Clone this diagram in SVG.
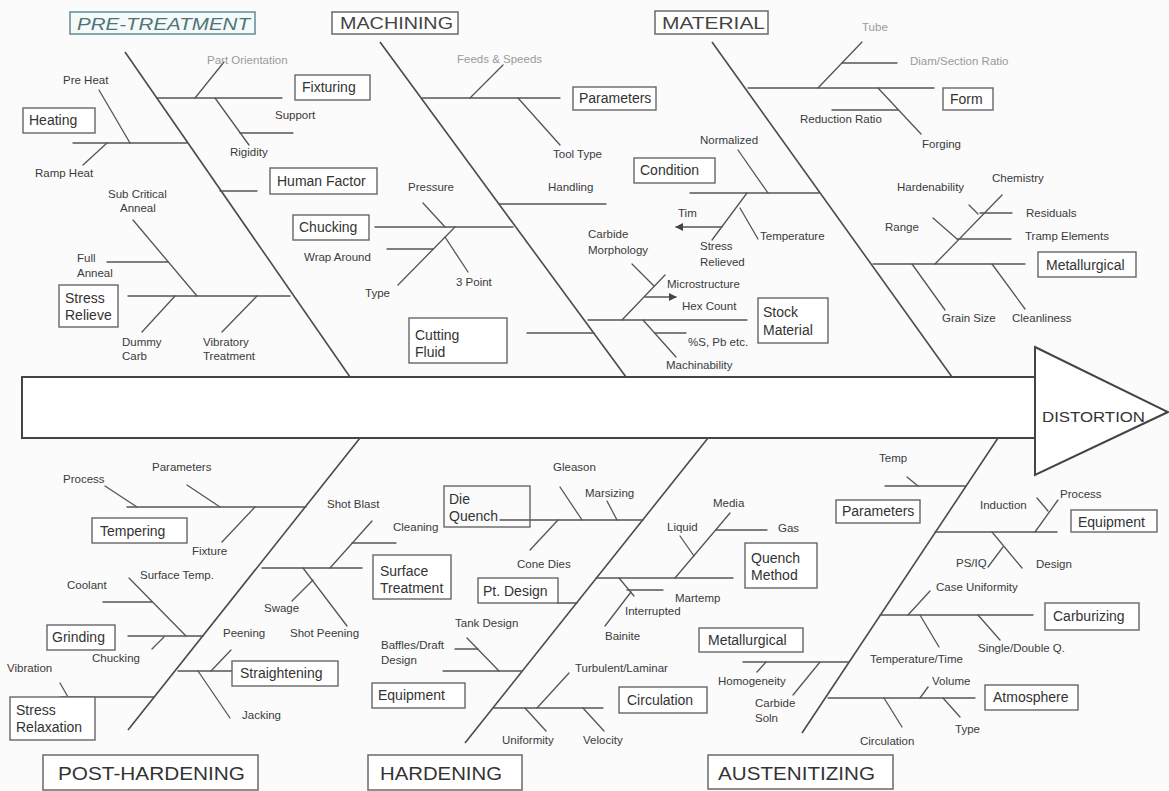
<svg xmlns="http://www.w3.org/2000/svg" width="1169" height="791" viewBox="0 0 1169 791">
<style>
.bg{fill:#fbfbfb}
.ln{stroke:#555;stroke-width:1.3;fill:none;stroke-linecap:round}
.bone{stroke:#4a4a4a;stroke-width:1.6;fill:none}
.spine{stroke:#444;stroke-width:2;fill:#fff}
.box{fill:#fff;stroke:#666;stroke-width:1.4}
.obox{fill:none;stroke:#666;stroke-width:1.4}
.hbox{fill:#fff;stroke:#6a6a6a;stroke-width:1.5}
.pbox{fill:#f4f9f9;stroke:#5f8f90;stroke-width:1.5}
.t{font-family:"Liberation Sans",Arial,sans-serif;font-size:11.5px;fill:#3a3a3a}
.lt{font-family:"Liberation Sans",Arial,sans-serif;font-size:11.5px;fill:#9a9a9a}
.bt{font-family:"Liberation Sans",Arial,sans-serif;font-size:14px;fill:#333}
.hd{font-family:"Liberation Sans",Arial,sans-serif;font-size:17px;fill:#444}
.hb{font-family:"Liberation Sans",Arial,sans-serif;font-size:19px;fill:#333}
.pt{font-family:"Liberation Sans",Arial,sans-serif;font-size:17px;font-style:italic;fill:#4f7475}
</style>
<defs>
<marker id="ah" viewBox="0 0 10 10" refX="9" refY="5" markerWidth="6" markerHeight="6" orient="auto-start-reverse">
<path d="M0,0 L10,5 L0,10 Z" fill="#444"/>
</marker>
</defs>
<rect class="bg" x="0" y="0" width="1169" height="791"/>

<g id="spine">
<rect class="spine" x="22" y="377" width="1013" height="61"/>
<path class="spine" d="M1035 347 L1168 412 L1035 475 Z"/>
<text class="bt" x="1042" y="422" font-size="15" textLength="103" lengthAdjust="spacingAndGlyphs">DISTORTION</text>
</g>

<g id="connectors">
<!-- main bones -->
<path class="bone" d="M125 52 L350 377"/>
<path class="bone" d="M380 42 L626 377"/>
<path class="bone" d="M712 42 L952 377"/>
<path class="bone" d="M360 438 L128 730"/>
<path class="bone" d="M708 438 L465 743"/>
<path class="bone" d="M998 438 L802 733"/>
<!-- pre-treatment -->
<path class="ln" d="M157 98 H282"/>
<path class="ln" d="M195 98 L224 62"/>
<path class="ln" d="M215 98 L249 145"/>
<path class="ln" d="M240 133 H293"/>
<path class="ln" d="M73 143 H187"/>
<path class="ln" d="M99 90 L130 143"/>
<path class="ln" d="M83 165 L107 143"/>
<path class="ln" d="M220 191 H257"/>
<path class="ln" d="M128 296 H290"/>
<path class="ln" d="M133 220 L197 296"/>
<path class="ln" d="M107 262 H168"/>
<path class="ln" d="M142 332 L175 296"/>
<path class="ln" d="M222 332 L257 296"/>
<!-- machining -->
<path class="ln" d="M422 98 H560"/>
<path class="ln" d="M470 98 L503 65"/>
<path class="ln" d="M518 98 L560 145"/>
<path class="ln" d="M499 204 H606"/>
<path class="ln" d="M375 227 H513"/>
<path class="ln" d="M423 203 L445 227"/>
<path class="ln" d="M455 227 L398 285"/>
<path class="ln" d="M387 249 H433"/>
<path class="ln" d="M445 237 L468 272"/>
<path class="ln" d="M527 333 H594"/>
<path class="ln" d="M588 320 H747"/>
<!-- material -->
<path class="ln" d="M748 88 H934"/>
<path class="ln" d="M818 88 L862 42"/>
<path class="ln" d="M842 63 H897"/>
<path class="ln" d="M878 88 L921 134"/>
<path class="ln" d="M832 110 H898"/>
<path class="ln" d="M690 193 H819"/>
<path class="ln" d="M738 150 L768 193"/>
<path class="ln" d="M747 193 L712 240"/>
<path class="ln" d="M740 208 L758 239"/>
<path class="ln" d="M722 227 H676" marker-end="url(#ah)"/>
<path class="ln" d="M622 320 L665 275"/>
<path class="ln" d="M632 264 L654 286"/>
<path class="ln" d="M645 297 H676" marker-end="url(#ah)"/>
<path class="ln" d="M643 320 L676 357"/>
<path class="ln" d="M655 333 H686"/>
<path class="ln" d="M873 264 H1025"/>
<path class="ln" d="M935 264 L1002 195"/>
<path class="ln" d="M969 205 L978 214"/>
<path class="ln" d="M980 213 H1012"/>
<path class="ln" d="M933 218 L957 239"/>
<path class="ln" d="M957 239 H1011"/>
<path class="ln" d="M912 264 L945 310"/>
<path class="ln" d="M992 264 L1025 309"/>
<!-- post-hardening -->
<path class="ln" d="M127 507 H306"/>
<path class="ln" d="M105 486 L137 507"/>
<path class="ln" d="M187 485 L220 507"/>
<path class="ln" d="M222 542 L255 507"/>
<path class="ln" d="M262 568 H362"/>
<path class="ln" d="M330 568 L372 521"/>
<path class="ln" d="M352 543 H396"/>
<path class="ln" d="M303 568 L347 626"/>
<path class="ln" d="M292 601 L313 580"/>
<path class="ln" d="M128 636 H203"/>
<path class="ln" d="M129 578 L186 636"/>
<path class="ln" d="M103 602 H152"/>
<path class="ln" d="M152 649 L164 637"/>
<path class="ln" d="M178 671 H233"/>
<path class="ln" d="M211 671 L231 650"/>
<path class="ln" d="M198 671 L230 718"/>
<path class="ln" d="M60 697 H154"/>
<path class="ln" d="M60 683 L68 697"/>
<!-- hardening -->
<path class="ln" d="M500 520 H643"/>
<path class="ln" d="M560 487 L582 520"/>
<path class="ln" d="M607 501 L617 520"/>
<path class="ln" d="M530 550 L558 520"/>
<path class="ln" d="M557 603 H577"/>
<path class="ln" d="M596 578 H733"/>
<path class="ln" d="M675 578 L730 513"/>
<path class="ln" d="M680 536 L694 556"/>
<path class="ln" d="M716 530 H767"/>
<path class="ln" d="M619 578 L634 596"/>
<path class="ln" d="M627 590 H663"/>
<path class="ln" d="M631 592 L605 626"/>
<path class="ln" d="M443 671 H522"/>
<path class="ln" d="M467 638 L499 671"/>
<path class="ln" d="M455 649 H478"/>
<path class="ln" d="M493 708 H603"/>
<path class="ln" d="M537 708 L569 673"/>
<path class="ln" d="M525 708 L546 731"/>
<path class="ln" d="M583 708 L604 731"/>
<!-- austenitizing -->
<path class="ln" d="M885 486 H966"/>
<path class="ln" d="M907 477 L918 486"/>
<path class="ln" d="M935 532 H1057"/>
<path class="ln" d="M1035 532 L1058 500"/>
<path class="ln" d="M1037 498 L1048 511"/>
<path class="ln" d="M992 532 L1022 568"/>
<path class="ln" d="M988 567 L1003 547"/>
<path class="ln" d="M880 615 H1033"/>
<path class="ln" d="M908 615 L930 591"/>
<path class="ln" d="M920 615 L939 647"/>
<path class="ln" d="M978 615 L1000 640"/>
<path class="ln" d="M743 662 H849"/>
<path class="ln" d="M757 672 L766 662"/>
<path class="ln" d="M793 695 L820 662"/>
<path class="ln" d="M828 698 H975"/>
<path class="ln" d="M920 698 L928 687"/>
<path class="ln" d="M943 698 L960 717"/>
<path class="ln" d="M884 698 L902 727"/>
</g>

<!-- category headers -->
<g id="pre-treatment"><rect class="pbox" x="70" y="12" width="185" height="22"/><text class="pt" x="77" y="30" textLength="173" lengthAdjust="spacingAndGlyphs">PRE-TREATMENT</text></g>
<g id="machining"><rect class="hbox" x="332" y="12" width="126" height="22"/><text class="hd" x="340" y="29" textLength="113" lengthAdjust="spacingAndGlyphs">MACHINING</text></g>
<g id="material"><rect class="hbox" x="655" y="11" width="113" height="23"/><text class="hd" x="662" y="29" textLength="103" lengthAdjust="spacingAndGlyphs">MATERIAL</text></g>
<g id="post-hardening"><rect class="hbox" x="43" y="755" width="215" height="35"/><text class="hb" x="58" y="780" textLength="187" lengthAdjust="spacingAndGlyphs">POST-HARDENING</text></g>
<g id="hardening"><rect class="hbox" x="368" y="755" width="154" height="35"/><text class="hb" x="380" y="780" textLength="122" lengthAdjust="spacingAndGlyphs">HARDENING</text></g>
<g id="austenitizing"><rect class="hbox" x="708" y="755" width="185" height="34"/><text class="hb" x="718" y="780" textLength="157" lengthAdjust="spacingAndGlyphs">AUSTENITIZING</text></g>

<!-- boxed causes -->
<g id="heating"><rect class="box" x="23" y="108" width="72" height="25"/><text class="bt" x="29" y="125">Heating</text></g>
<g id="fixturing"><rect class="box" x="295" y="75" width="75" height="25"/><text class="bt" x="302" y="92">Fixturing</text></g>
<g id="human-factor"><rect class="box" x="270" y="168" width="107" height="26"/><text class="bt" x="277" y="186">Human Factor</text></g>
<g id="stress-relieve"><rect class="box" x="59" y="285" width="59" height="42"/><text class="bt" x="65" y="303">Stress</text><text class="bt" x="65" y="320">Relieve</text></g>
<g id="parameters-m"><rect class="box" x="573" y="87" width="83" height="23"/><text class="bt" x="579" y="103">Parameters</text></g>
<g id="chucking-m"><rect class="box" x="293" y="215" width="76" height="25"/><text class="bt" x="299" y="232">Chucking</text></g>
<g id="cutting-fluid"><rect class="box" x="409" y="318" width="98" height="45"/><text class="bt" x="415" y="340">Cutting</text><text class="bt" x="415" y="357">Fluid</text></g>
<g id="form"><rect class="box" x="943" y="88" width="50" height="22"/><text class="bt" x="950" y="104">Form</text></g>
<g id="condition"><rect class="box" x="634" y="158" width="81" height="25"/><text class="bt" x="640" y="175">Condition</text></g>
<g id="stock-material"><rect class="box" x="758" y="298" width="70" height="45"/><text class="bt" x="763" y="317">Stock</text><text class="bt" x="763" y="335">Material</text></g>
<g id="metallurgical-m"><rect class="box" x="1038" y="252" width="98" height="25"/><text class="bt" x="1046" y="270">Metallurgical</text></g>
<g id="tempering"><rect class="box" x="92" y="518" width="95" height="25"/><text class="bt" x="100" y="536">Tempering</text></g>
<g id="surface-treatment"><rect class="box" x="373" y="555" width="78" height="44"/><text class="bt" x="380" y="576">Surface</text><text class="bt" x="380" y="593">Treatment</text></g>
<g id="grinding"><rect class="box" x="47" y="625" width="68" height="25"/><text class="bt" x="52" y="642">Grinding</text></g>
<g id="straightening"><rect class="box" x="232" y="661" width="106" height="25"/><text class="bt" x="240" y="678">Straightening</text></g>
<g id="stress-relaxation"><rect class="box" x="10" y="697" width="85" height="43"/><text class="bt" x="16" y="715">Stress</text><text class="bt" x="16" y="732">Relaxation</text></g>
<g id="die-quench"><rect class="obox" x="444" y="486" width="86" height="41"/><text class="bt" x="449" y="504">Die</text><text class="bt" x="449" y="521">Quench</text></g>
<g id="pt-design"><rect class="box" x="478" y="578" width="80" height="25"/><text class="bt" x="483" y="596">Pt. Design</text></g>
<g id="quench-method"><rect class="box" x="745" y="543" width="72" height="45"/><text class="bt" x="751" y="563">Quench</text><text class="bt" x="751" y="580">Method</text></g>
<g id="equipment-h"><rect class="box" x="372" y="683" width="93" height="25"/><text class="bt" x="378" y="700">Equipment</text></g>
<g id="circulation-h"><rect class="box" x="619" y="687" width="88" height="26"/><text class="bt" x="627" y="705">Circulation</text></g>
<g id="parameters-a"><rect class="box" x="836" y="500" width="84" height="23"/><text class="bt" x="842" y="516">Parameters</text></g>
<g id="equipment-a"><rect class="box" x="1071" y="510" width="86" height="22"/><text class="bt" x="1078" y="527">Equipment</text></g>
<g id="carburizing"><rect class="box" x="1045" y="603" width="94" height="27"/><text class="bt" x="1053" y="621">Carburizing</text></g>
<g id="metallurgical-a"><rect class="box" x="699" y="628" width="104" height="24"/><text class="bt" x="708" y="645">Metallurgical</text></g>
<g id="atmosphere"><rect class="box" x="985" y="685" width="93" height="25"/><text class="bt" x="993" y="702">Atmosphere</text></g>

<!-- sub-cause labels -->
<g id="labels-pre-treatment">
<text class="lt" x="207" y="64">Part Orientation</text>
<text class="t" x="63" y="84">Pre Heat</text>
<text class="t" x="35" y="177">Ramp Heat</text>
<text class="t" x="275" y="119">Support</text>
<text class="t" x="230" y="156">Rigidity</text>
<text class="t" x="108" y="198">Sub Critical</text>
<text class="t" x="120" y="212">Anneal</text>
<text class="t" x="77" y="262">Full</text>
<text class="t" x="77" y="277">Anneal</text>
<text class="t" x="122" y="346">Dummy</text>
<text class="t" x="122" y="360">Carb</text>
<text class="t" x="203" y="346">Vibratory</text>
<text class="t" x="203" y="360">Treatment</text>
</g>
<g id="labels-machining">
<text class="lt" x="457" y="63">Feeds &amp; Speeds</text>
<text class="t" x="553" y="158">Tool Type</text>
<text class="t" x="408" y="191">Pressure</text>
<text class="t" x="548" y="191">Handling</text>
<text class="t" x="304" y="261">Wrap Around</text>
<text class="t" x="365" y="297">Type</text>
<text class="t" x="456" y="286">3 Point</text>
</g>
<g id="labels-material">
<text class="lt" x="862" y="31">Tube</text>
<text class="lt" x="910" y="65">Diam/Section Ratio</text>
<text class="t" x="800" y="123">Reduction Ratio</text>
<text class="t" x="922" y="148">Forging</text>
<text class="t" x="700" y="144">Normalized</text>
<text class="t" x="678" y="217">Tim</text>
<text class="t" x="700" y="250">Stress</text>
<text class="t" x="700" y="266">Relieved</text>
<text class="t" x="760" y="240">Temperature</text>
<text class="t" x="588" y="238">Carbide</text>
<text class="t" x="588" y="254">Morphology</text>
<text class="t" x="667" y="288">Microstructure</text>
<text class="t" x="682" y="310">Hex Count</text>
<text class="t" x="688" y="346">%S, Pb etc.</text>
<text class="t" x="666" y="369">Machinability</text>
<text class="t" x="897" y="191">Hardenability</text>
<text class="t" x="992" y="182">Chemistry</text>
<text class="t" x="1026" y="217">Residuals</text>
<text class="t" x="885" y="231">Range</text>
<text class="t" x="1025" y="240">Tramp Elements</text>
<text class="t" x="942" y="322">Grain Size</text>
<text class="t" x="1012" y="322">Cleanliness</text>
</g>
<g id="labels-post-hardening">
<text class="t" x="63" y="483">Process</text>
<text class="t" x="152" y="471">Parameters</text>
<text class="t" x="192" y="555">Fixture</text>
<text class="t" x="327" y="508">Shot Blast</text>
<text class="t" x="393" y="531">Cleaning</text>
<text class="t" x="67" y="589">Coolant</text>
<text class="t" x="140" y="579">Surface Temp.</text>
<text class="t" x="264" y="612">Swage</text>
<text class="t" x="290" y="637">Shot Peening</text>
<text class="t" x="223" y="637">Peening</text>
<text class="t" x="92" y="662">Chucking</text>
<text class="t" x="7" y="672">Vibration</text>
<text class="t" x="242" y="719">Jacking</text>
</g>
<g id="labels-hardening">
<text class="t" x="553" y="471">Gleason</text>
<text class="t" x="585" y="497">Marsizing</text>
<text class="t" x="517" y="568">Cone Dies</text>
<text class="t" x="713" y="507">Media</text>
<text class="t" x="667" y="531">Liquid</text>
<text class="t" x="778" y="532">Gas</text>
<text class="t" x="675" y="602">Martemp</text>
<text class="t" x="625" y="615">Interrupted</text>
<text class="t" x="605" y="640">Bainite</text>
<text class="t" x="455" y="627">Tank Design</text>
<text class="t" x="381" y="649">Baffles/Draft</text>
<text class="t" x="381" y="664">Design</text>
<text class="t" x="575" y="672">Turbulent/Laminar</text>
<text class="t" x="502" y="744">Uniformity</text>
<text class="t" x="583" y="744">Velocity</text>
</g>
<g id="labels-austenitizing">
<text class="t" x="879" y="462">Temp</text>
<text class="t" x="980" y="509">Induction</text>
<text class="t" x="1060" y="498">Process</text>
<text class="t" x="956" y="567">PS/IQ</text>
<text class="t" x="1036" y="568">Design</text>
<text class="t" x="936" y="591">Case Uniformity</text>
<text class="t" x="870" y="663">Temperature/Time</text>
<text class="t" x="978" y="652">Single/Double Q.</text>
<text class="t" x="718" y="685">Homogeneity</text>
<text class="t" x="755" y="707">Carbide</text>
<text class="t" x="755" y="722">Soln</text>
<text class="t" x="932" y="685">Volume</text>
<text class="t" x="955" y="733">Type</text>
<text class="t" x="860" y="745">Circulation</text>
</g>
</svg>
